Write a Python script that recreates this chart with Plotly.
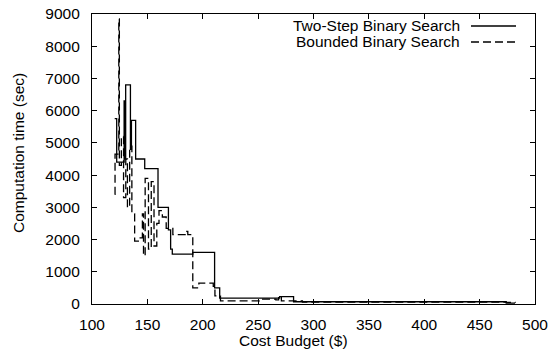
import plotly.graph_objects as go

# Cost budget ($) and computation time (sec) for each search strategy
two_step_budget = [120.5, 122.3, 129.0, 129.6, 130.4, 134.7, 135.6, 139.4, 147.6,
                   159.6, 169.0, 171.0, 172.5, 191.0, 210.7, 215.3, 269.4, 282.0,
                   474.0, 482.0]
two_step_time = [5750, 4400, 6300, 4500, 6800, 4800, 5700, 4500, 4200,
                 3000, 2300, 1700, 1550, 1600, 500, 180, 230, 70,
                 30, 30]

bounded_budget = [120.5, 120.8, 124.2, 124.7, 126.5, 128.5, 130.5, 132.0, 134.0,
                  136.0, 138.5, 143.5, 145.5, 146.5, 148.0, 151.0, 153.5, 156.0,
                  158.5, 160.5, 163.5, 167.0, 173.0, 185.5, 186.5, 191.0, 196.5,
                  209.5, 211.0, 216.0, 247.0, 251.0, 266.0, 268.5, 271.0, 290.0,
                  474.0, 482.0]
bounded_time = [3400, 4650, 8850, 4300, 5200, 3300, 4500, 3000, 4900,
                2800, 1950, 2050, 2800, 1500, 3900, 1700, 3800, 1800,
                2500, 2900, 2700, 2350, 2150, 2250, 2150, 500, 650,
                550, 250, 100, 100, 150, 130, 250, 100, 60,
                50, 30]

series_names = ["Two-Step Binary Search", "Bounded Binary Search"]
x_ticks = [100, 150, 200, 250, 300, 350, 400, 450, 500]
y_ticks = [0, 1000, 2000, 3000, 4000, 5000, 6000, 7000, 8000, 9000]

FONT = "Liberation Sans, Arial, Helvetica, sans-serif"
FS = 15.5
W, H = 551, 356
L, R, T, B = 92, 16, 14, 52

fig = go.Figure()
fig.add_trace(go.Scatter(x=two_step_budget, y=two_step_time, mode="lines",
                         line=dict(color="black", width=1.3, shape="hv"),
                         name=series_names[0], showlegend=False))
fig.add_trace(go.Scatter(x=bounded_budget, y=bounded_time, mode="lines",
                         line=dict(color="black", width=1.3, shape="hv", dash="8px,4px"),
                         name=series_names[1], showlegend=False))

axis_common = dict(showline=True, linecolor="black", linewidth=1.2, mirror="ticks",
                   ticks="inside", ticklen=5, tickwidth=1, tickcolor="black",
                   showgrid=False, zeroline=False, automargin=False,
                   tickfont=dict(family=FONT, size=FS, color="black"))
fig.update_xaxes(range=[100, 500], tickvals=x_ticks, ticklabelstandoff=6, **axis_common)
fig.update_yaxes(range=[0, 9000], tickvals=y_ticks, ticklabelstandoff=8, **axis_common)

pw, ph = W - L - R, H - T - B


def px_x(p):
    return (p - L) / pw


def px_y(p):
    return (H - B - p) / ph


annotations = [
    dict(text="Cost Budget ($)", x=px_x(293.5), y=px_y(340), xref="paper", yref="paper",
         xanchor="center", yanchor="middle", showarrow=False,
         font=dict(family=FONT, size=FS, color="black")),
    dict(text="Computation time (sec)", x=px_x(18), y=px_y(153), xref="paper", yref="paper",
         xanchor="center", yanchor="middle", showarrow=False, textangle=-90,
         font=dict(family=FONT, size=FS, color="black")),
]
# Legend: right-aligned labels with sample lines to their right
shapes = []
for i, (name, dash) in enumerate(zip(series_names, ["solid", "8px,4px"])):
    yc = 26 + i * 16
    annotations.append(dict(text=name, x=px_x(462), y=px_y(yc), xref="paper", yref="paper",
                            xanchor="right", yanchor="middle", showarrow=False,
                            font=dict(family=FONT, size=FS, color="black")))
    shapes.append(dict(type="line", xref="paper", yref="paper",
                       x0=px_x(471), x1=px_x(516), y0=px_y(yc), y1=px_y(yc),
                       line=dict(color="black", width=1.3, dash=dash)))

fig.update_layout(width=W, height=H, margin=dict(l=L, r=R, t=T, b=B),
                  paper_bgcolor="white", plot_bgcolor="white",
                  annotations=annotations, shapes=shapes,
                  font=dict(family=FONT, size=FS, color="black"))

fig.write_html("out.html")
